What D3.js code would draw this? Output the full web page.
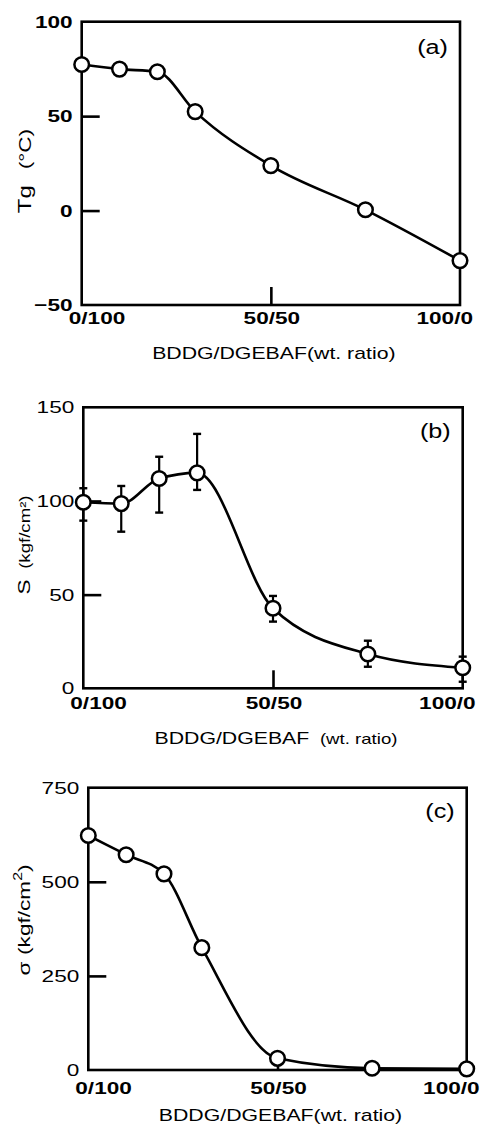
<!DOCTYPE html>
<html>
<head>
<meta charset="utf-8">
<script src="https://cdn.jsdelivr.net/npm/d3@7"></script>
<style>
  html, body { margin: 0; padding: 0; background: #fff; }
  svg { display: block; }
  text { font-family: "Liberation Sans", Arial, Helvetica, sans-serif; fill: #000; }
</style>
</head>
<body>
<svg id="fig" width="482" height="1130"></svg>
<script>
// BDDG content (wt.%) of the BDDG/DGEBAF blends
const bddg = [0, 10, 20, 30, 50, 75, 100];

// (a) glass transition temperature, °C
const tgValues = [77.3, 74.9, 73.5, 52.4, 23.8, 0.4, -26.5];

// (b) adhesive strength S, kgf/cm², with error bar limits
const strengthValues = [99.3, 98.6, 112, 115, 42.7, 18.3, 11];
const strengthUpper = [106.8, 108, 123.6, 135.8, 49.3, 25.4, 16.9];
const strengthLower = [89.5, 83.6, 93.8, 105.9, 35.6, 11.5, 3.5];

// (c) tensile strength σ, kgf/cm²
const sigmaValues = [623, 572, 521, 325, 31, 4.5, 3];

// axis ticks
const xTickValues = [0, 50, 100];
const xTickLabels = ["0/100", "50/50", "100/0"];
const tgTicks = [100, 50, 0, -50];
const tgTickLabels = ["100", "50", "0", "\u221250"];
const strengthTicks = [150, 100, 50, 0];
const strengthTickLabels = ["150", "100", "50", "0"];
const sigmaTicks = [750, 500, 250, 0];
const sigmaTickLabels = ["750", "500", "250", "0"];

const SX = 1.33;            // horizontal stretch of the typeface
const svg = d3.select("#fig");

function label(g, x, y, opts) {
  const rot = opts.rotate || 0;
  const t = g.append("text")
    .attr("transform", `translate(${x},${y}) rotate(${rot}) scale(${opts.sx || SX},1)`)
    .attr("text-anchor", opts.anchor || "middle")
    .attr("font-size", opts.size || 16)
    .attr("font-weight", opts.weight || "normal");
  (opts.parts).forEach(p => {
    const ts = t.append("tspan").text(p.text);
    if (p.size) ts.attr("font-size", p.size);
    if (p.dx) ts.attr("dx", p.dx);
    if (p.dy) ts.attr("dy", p.dy);
  });
  return t;
}

function panel(cfg) {
  const f = cfg.frame;
  const g = svg.append("g");
  const x = d3.scaleLinear().domain([0, 100]).range([f.l, f.r]);
  const y = d3.scaleLinear().domain(cfg.yDomain).range([f.b, f.t]);

  // inward ticks on the left axis
  const yAxis = d3.axisLeft(y).tickValues(cfg.yTicks.slice(1, -1))
    .tickSizeInner(-18).tickSizeOuter(0).tickFormat("");
  const ya = g.append("g").attr("transform", `translate(${f.l},0)`).call(yAxis);
  ya.select(".domain").remove();
  ya.selectAll(".tick line").attr("stroke", "#000").attr("stroke-width", 2.6);

  // inward tick at 50/50 on the bottom axis
  const xAxis = d3.axisBottom(x).tickValues([xTickValues[1]])
    .tickSizeInner(-18).tickSizeOuter(0).tickFormat("");
  const xa = g.append("g").attr("transform", `translate(0,${f.b})`).call(xAxis);
  xa.select(".domain").remove();
  xa.selectAll(".tick line").attr("stroke", "#000").attr("stroke-width", 2.6);

  // frame
  g.append("rect")
    .attr("x", f.l).attr("y", f.t)
    .attr("width", f.r - f.l).attr("height", f.b - f.t)
    .attr("fill", "none").attr("stroke", "#000").attr("stroke-width", 2.6);

  // y tick labels
  cfg.yTicks.forEach((v, i) => {
    label(g, f.l - 9, y(v) + 6, {
      anchor: "end", size: 17, weight: cfg.yWeight || "bold",
      parts: [{ text: cfg.yTickLabels[i] }]
    });
  });

  // x tick labels
  const anchors = ["start", "middle", "end"];
  const shifts = [-13, 1, 13];
  xTickValues.forEach((v, i) => {
    label(g, x(v) + shifts[i], cfg.xLabelY, {
      anchor: anchors[i], size: 17, weight: "bold",
      parts: [{ text: xTickLabels[i] }]
    });
  });

  const pts = bddg.map((b, i) => [x(b), y(cfg.values[i])]);

  // fitted curve
  g.append("path")
    .attr("d", d3.line().curve(d3.curveMonotoneX)(pts))
    .attr("fill", "none").attr("stroke", "#000").attr("stroke-width", 2.6);

  // error bars
  if (cfg.upper) {
    bddg.forEach((b, i) => {
      const cx = x(b), y1 = y(cfg.upper[i]), y2 = y(cfg.lower[i]);
      g.append("line").attr("x1", cx).attr("x2", cx).attr("y1", y1).attr("y2", y2)
        .attr("stroke", "#000").attr("stroke-width", 2.2);
      [y1, y2].forEach(yy => g.append("line")
        .attr("x1", cx - 4).attr("x2", cx + 4).attr("y1", yy).attr("y2", yy)
        .attr("stroke", "#000").attr("stroke-width", 2.4));
    });
  }

  // open circle markers
  g.selectAll("circle.pt").data(pts).enter().append("circle")
    .attr("class", "pt")
    .attr("cx", d => d[0]).attr("cy", d => d[1]).attr("r", 7.3)
    .attr("fill", "#fff").attr("stroke", "#000").attr("stroke-width", 2.5);

  // panel letter
  label(g, f.r - 12, f.t + cfg.letterDy, {
    anchor: "end", size: 21, sx: 1.2, parts: [{ text: cfg.letter }]
  });

  // x axis title
  label(g, (f.l + f.r) / 2 + 3, cfg.titleY, {
    anchor: "middle", size: 16, parts: cfg.titleParts
  });

  // y axis title
  label(g, cfg.yTitleX, cfg.yTitleY, {
    anchor: "middle", size: 17, rotate: -90, parts: cfg.yTitleParts
  });
}

panel({
  frame: { l: 81.7, r: 460, t: 21.7, b: 305 },
  yDomain: [-50, 100], yTicks: tgTicks, yTickLabels: tgTickLabels,
  values: tgValues, letter: "(a)", letterDy: 32,
  xLabelY: 324, titleY: 359,
  titleParts: [{ text: "BDDG/DGEBAF(wt. ratio)" }],
  yTitleX: 31, yTitleY: 171,
  yTitleParts: [{ text: "Tg", size: 18 }, { text: "(\u00B0C)", dx: 12 }]
});

panel({
  frame: { l: 83.3, r: 462.7, t: 407.3, b: 688.3 },
  yDomain: [0, 150], yTicks: strengthTicks, yTickLabels: strengthTickLabels,
  yWeight: "normal",
  values: strengthValues, upper: strengthUpper, lower: strengthLower,
  letter: "(b)", letterDy: 31,
  xLabelY: 709, titleY: 744,
  titleParts: [{ text: "BDDG/DGEBAF" }, { text: "(wt. ratio)", size: 14, dx: 8 }],
  yTitleX: 30, yTitleY: 545,
  yTitleParts: [{ text: "S" }, { text: "(kgf/cm\u00B2)", size: 14, dx: 8 }]
});

panel({
  frame: { l: 88.3, r: 466.7, t: 787.7, b: 1070 },
  yDomain: [0, 750], yTicks: sigmaTicks, yTickLabels: sigmaTickLabels,
  yWeight: "normal",
  values: sigmaValues, letter: "(c)", letterDy: 30,
  xLabelY: 1094, titleY: 1121,
  titleParts: [{ text: "BDDG/DGEBAF(wt. ratio)" }],
  yTitleX: 30, yTitleY: 920,
  yTitleParts: [{ text: "\u03C3" }, { text: "(kgf/cm", dx: 5 },
                { text: "2", size: 12, dy: -8 }, { text: ")", dy: 8 }]
});
</script>
</body>
</html>
